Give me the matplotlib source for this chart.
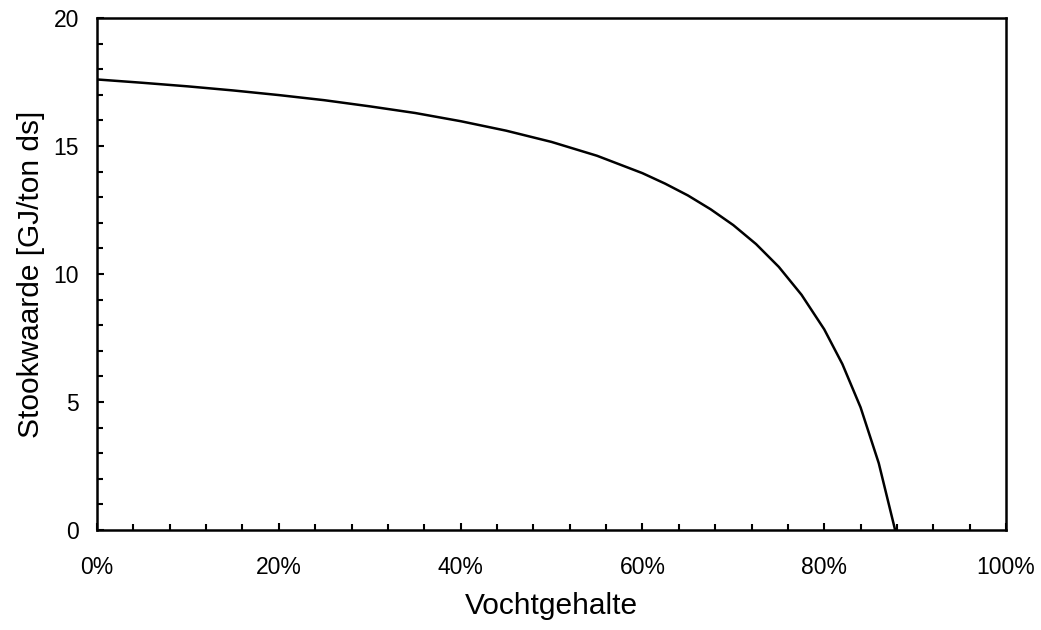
import matplotlib.pyplot as plt
from matplotlib.ticker import MultipleLocator, FuncFormatter

plt.rcParams['font.family'] = ['Liberation Sans', 'DejaVu Sans']

# vochtgehalte (fraction) and stookwaarde [GJ/ton ds]
vocht = [0.00, 0.05, 0.10, 0.15, 0.20, 0.25, 0.30, 0.35, 0.40, 0.45,
         0.50, 0.55, 0.60, 0.625, 0.65, 0.675, 0.70, 0.725, 0.75, 0.775,
         0.80, 0.82, 0.84, 0.86, 0.878]
stookwaarde = [17.60, 17.47, 17.33, 17.17, 16.99, 16.79, 16.55, 16.29, 15.97, 15.60,
               15.16, 14.62, 13.94, 13.53, 13.07, 12.53, 11.91, 11.17, 10.28, 9.19,
               7.84, 6.48, 4.79, 2.61, 0.0]

fig = plt.figure(figsize=(10.41, 6.30), dpi=100)
ax = fig.add_axes([0.0932, 0.1587, 0.8732, 0.8127])

ax.plot(vocht, stookwaarde, color='black', linewidth=1.8)

ax.set_xlim(0, 1)
ax.set_ylim(0, 20)

ax.xaxis.set_major_locator(MultipleLocator(0.2))
ax.xaxis.set_minor_locator(MultipleLocator(0.04))
ax.yaxis.set_major_locator(MultipleLocator(5))
ax.yaxis.set_minor_locator(MultipleLocator(1))
ax.xaxis.set_major_formatter(FuncFormatter(lambda v, p: '%d%%' % round(v * 100)))

ax.tick_params(axis='both', which='both', direction='in', width=1.5, labelsize=16.5)
ax.tick_params(axis='both', which='major', length=5)
ax.tick_params(axis='both', which='minor', length=4)
ax.tick_params(axis='x', pad=19)
ax.tick_params(axis='y', pad=13)

for s in ax.spines.values():
    s.set_linewidth(1.8)

ax.set_xlabel('Vochtgehalte', fontsize=21.5, labelpad=9)
ax.set_ylabel('Stookwaarde [GJ/ton ds]', fontsize=21.5, labelpad=6)

plt.savefig('out.png', dpi=100)
